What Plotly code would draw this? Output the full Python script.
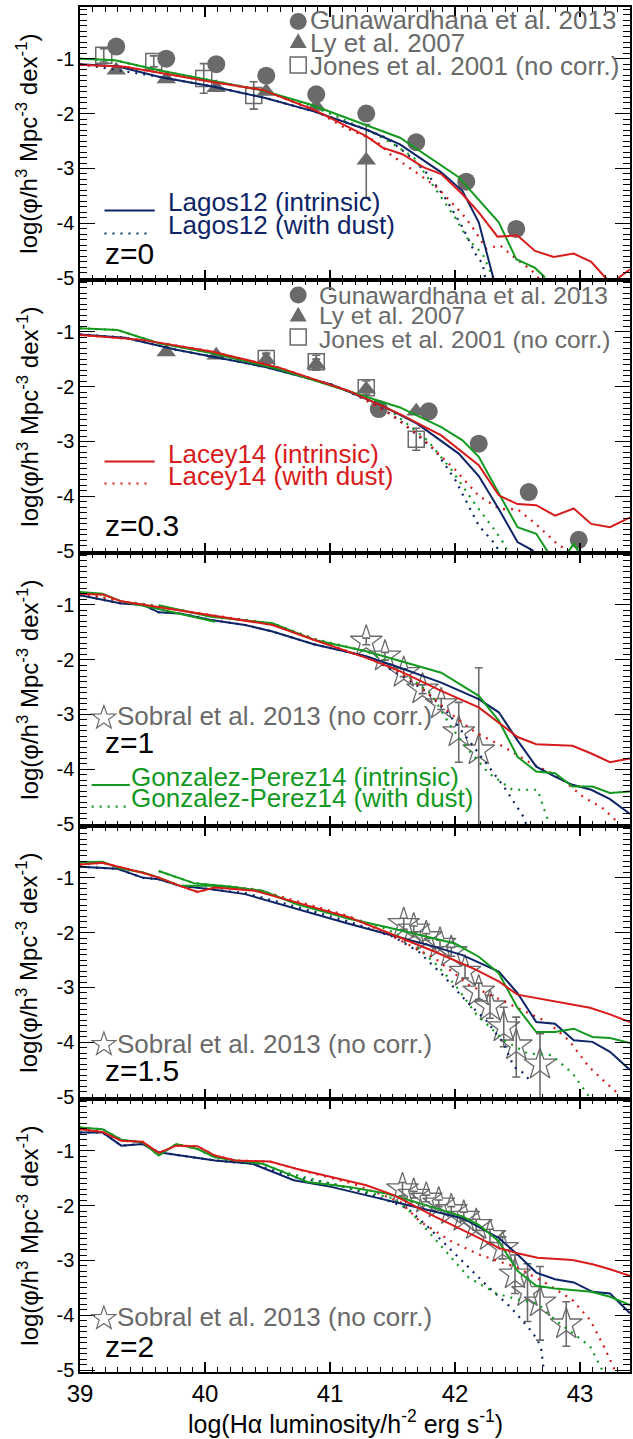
import math
import plotly.graph_objects as go
from plotly.subplots import make_subplots

# ---------------- data ----------------
x_tick_vals = [39, 40, 41, 42, 43]
x_tick_text = ["39", "40", "41", "42", "43"]
y_tick_vals = [-1, -2, -3, -4, -5]
y_tick_text = ["-1", "-2", "-3", "-4", "-5"]
panel_labels = ["z=0", "z=0.3", "z=1", "z=1.5", "z=2"]

# z = 0
z0_lagos_x = [39.0, 39.3, 39.63, 40.07, 40.49, 40.87, 41.29, 41.56, 41.89, 42.06, 42.19, 42.30, 42.33]
z0_lagos_y = [-1.10, -1.14, -1.33, -1.51, -1.72, -1.96, -2.29, -2.56, -3.07, -3.41, -3.98, -4.97, -5.2]
z0_lagos_dust_x = [39.0, 39.63, 40.07, 40.49, 40.87, 41.29, 41.45, 41.62, 41.78, 41.92, 42.06, 42.17, 42.22, 42.26]
z0_lagos_dust_y = [-1.10, -1.33, -1.51, -1.72, -1.96, -2.29, -2.44, -2.74, -3.10, -3.53, -4.07, -4.58, -4.73, -5.2]
z0_lacey_x = [39.0, 39.36, 40.05, 40.46, 40.87, 41.29, 41.42, 41.58, 41.75, 41.89, 42.06, 42.19, 42.34, 42.50,
              42.64, 42.79, 42.95, 43.09, 43.20, 43.25, 43.40]
z0_lacey_y = [-1.11, -1.15, -1.42, -1.57, -1.93, -2.41, -2.62, -2.74, -2.98, -3.10, -3.47, -3.80, -4.24, -4.22,
              -4.50, -4.61, -4.55, -4.70, -4.98, -5.08, -4.84]
z0_lacey_dust_x = [39.0, 39.36, 40.05, 40.46, 40.87, 41.12, 41.37, 41.48, 41.67, 41.86, 42.06, 42.14, 42.25, 42.36,
                   42.47, 42.61, 42.66, 42.72]
z0_lacey_dust_y = [-1.11, -1.15, -1.42, -1.57, -1.93, -2.26, -2.50, -2.74, -3.04, -3.35, -3.83, -4.07, -4.46, -4.40,
                   -4.61, -4.85, -4.97, -5.2]
z0_gp_x = [39.0, 39.28, 39.63, 40.07, 40.46, 40.85, 41.06, 41.56, 42.03, 42.35, 42.49, 42.64, 42.71, 42.76]
z0_gp_y = [-1.00, -1.03, -1.21, -1.40, -1.58, -1.84, -2.02, -2.44, -3.16, -3.98, -4.65, -4.81, -4.96, -5.2]
z0_gp_dust_x = [39.0, 39.28, 39.63, 40.07, 40.46, 40.85, 41.06, 41.37, 41.51, 41.67, 41.84, 42.00, 42.11, 42.22,
                42.30, 42.34]
z0_gp_dust_y = [-1.00, -1.03, -1.21, -1.40, -1.58, -1.86, -2.06, -2.38, -2.56, -2.80, -3.35, -3.89, -4.31, -4.55,
                -4.97, -5.2]
z0_gun_x = [39.29, 39.69, 40.09, 40.49, 40.89, 41.29, 41.69, 42.09, 42.49]
z0_gun_y = [-0.78, -1.00, -1.10, -1.31, -1.65, -2.00, -2.52, -3.24, -4.10]
z0_ly_x = [39.29, 39.69, 40.09, 40.49, 40.89, 41.29]
z0_ly_y = [-1.21, -1.37, -1.53, -1.60, -1.87, -2.85]
z0_ly_err_p = [0.04, 0.04, 0.04, 0.04, 0.04, 0.65]
z0_ly_err_m = [0.04, 0.04, 0.04, 0.04, 0.04, 0.68]
z0_jones_x = [39.19, 39.59, 39.99, 40.39]
z0_jones_y = [-0.94, -1.05, -1.36, -1.67]
z0_jones_err = [0.12, 0.10, 0.27, 0.25]

# z = 0.3
z03_lagos_x = [39.0, 39.36, 39.77, 40.46, 41.01, 41.42, 41.70, 42.03, 42.19, 42.35, 42.50, 42.62, 42.66]
z03_lagos_y = [-1.05, -1.11, -1.33, -1.63, -1.96, -2.35, -2.68, -3.22, -3.63, -4.23, -4.83, -4.98, -5.2]
z03_lagos_dust_x = [39.0, 39.36, 39.77, 40.46, 41.01, 41.37, 41.56, 41.84, 42.00, 42.19, 42.33, 42.38]
z03_lagos_dust_y = [-1.05, -1.11, -1.33, -1.63, -1.96, -2.32, -2.62, -3.16, -3.69, -4.53, -4.89, -5.2]
z03_lacey_x = [39.0, 39.50, 40.05, 40.60, 41.15, 41.56, 41.89, 42.19, 42.35, 42.50, 42.65, 42.80, 42.95, 43.09,
               43.24, 43.40]
z03_lacey_y = [-1.06, -1.15, -1.36, -1.66, -2.08, -2.50, -2.89, -3.43, -3.98, -4.14, -4.16, -4.35, -4.22, -4.50,
               -4.56, -4.38]
z03_lacey_dust_x = [39.0, 39.50, 40.05, 40.60, 41.15, 41.48, 41.73, 42.00, 42.19, 42.36, 42.50, 42.66, 42.83,
                    42.91, 42.95]
z03_lacey_dust_y = [-1.06, -1.15, -1.36, -1.66, -2.08, -2.50, -2.92, -3.51, -3.99, -4.23, -4.23, -4.53, -4.89,
                    -4.98, -5.2]
z03_gp_x = [39.0, 39.30, 39.63, 40.05, 40.60, 41.15, 41.56, 41.89, 42.06, 42.19, 42.35, 42.50, 42.65, 42.74,
            42.88, 42.95, 43.00, 43.05]
z03_gp_y = [-0.94, -0.97, -1.21, -1.39, -1.69, -2.08, -2.38, -2.74, -2.98, -3.28, -3.93, -4.56, -4.68, -5.0,
            -5.1, -4.86, -5.05, -5.2]
z03_gp_dust_x = [39.0, 39.30, 39.63, 40.05, 40.60, 41.15, 41.42, 41.78, 41.97, 42.17, 42.33, 42.40, 42.45]
z03_gp_dust_y = [-0.94, -0.97, -1.21, -1.39, -1.69, -2.08, -2.32, -2.98, -3.51, -4.17, -4.65, -4.89, -5.2]
z03_gun_x = [41.39, 41.79, 42.19, 42.59, 42.99]
z03_gun_y = [-2.41, -2.45, -3.04, -3.92, -4.79]
z03_ly_x = [39.69, 40.09, 40.49, 40.89, 41.29, 41.69]
z03_ly_y = [-1.37, -1.43, -1.51, -1.60, -2.05, -2.45]
z03_ly_err = [0.03, 0.03, 0.10, 0.10, 0.05, 0.05]
z03_jones_x = [40.49, 40.89, 41.29, 41.69]
z03_jones_y = [-1.49, -1.55, -2.02, -2.96]
z03_jones_err = [0.10, 0.12, 0.12, 0.20]

# z = 1
z1_lagos_x = [39.0, 39.33, 39.50, 39.63, 39.80, 40.05, 40.32, 40.54, 40.87, 41.29, 41.56, 41.89, 42.19, 42.35,
              42.50, 42.65, 42.80, 42.94, 43.09, 43.24, 43.40]
z1_lagos_y = [-0.83, -0.98, -1.00, -1.14, -1.16, -1.28, -1.37, -1.49, -1.72, -1.94, -2.15, -2.42, -2.72, -2.96,
              -3.47, -3.95, -4.13, -4.28, -4.37, -4.54, -4.81]
z1_lagos_dust_x = [39.0, 39.33, 39.50, 39.63, 39.80, 40.05, 40.32, 40.54, 40.87, 41.29, 41.42, 41.62, 41.78,
                   41.95, 42.11, 42.25, 42.39, 42.55, 42.60]
z1_lagos_dust_y = [-0.83, -0.98, -1.00, -1.14, -1.16, -1.28, -1.37, -1.49, -1.72, -1.94, -2.09, -2.36, -2.60,
                   -2.99, -3.47, -3.89, -4.31, -4.87, -5.2]
z1_lacey_x = [39.0, 39.19, 39.33, 39.50, 39.63, 40.05, 40.54, 40.87, 41.29, 41.56, 41.89, 42.19, 42.35, 42.50,
              42.65, 42.94, 43.09, 43.24, 43.40]
z1_lacey_y = [-0.80, -0.82, -0.94, -1.00, -1.04, -1.19, -1.37, -1.64, -1.97, -2.21, -2.57, -2.87, -3.14, -3.41,
              -3.54, -3.57, -3.71, -3.87, -3.80]
z1_lacey_dust_x = [39.0, 39.33, 39.63, 40.05, 40.54, 40.87, 41.29, 41.42, 41.70, 41.97, 42.16, 42.39, 42.61,
                   42.83, 43.02, 43.19, 43.30, 43.35]
z1_lacey_dust_y = [-0.80, -0.94, -1.04, -1.19, -1.35, -1.62, -1.97, -2.05, -2.45, -2.99, -3.32, -3.59, -3.89,
                   -4.13, -4.49, -4.72, -4.96, -5.2]
z1_gp_x = [39.0, 39.18, 39.33, 39.63, 40.08, None,
           39.63, 40.05, 40.54, 40.87, 41.29, 41.56, 41.89, 42.19, 42.35, 42.50, 42.65, 42.80, 42.94, 43.10,
           43.24, 43.40]
z1_gp_y = [-0.77, -0.80, -0.94, -1.08, -1.31, None,
           -1.01, -1.22, -1.34, -1.64, -1.85, -2.03, -2.24, -2.66, -3.11, -3.77, -4.04, -4.07, -4.31, -4.31,
           -4.43, -4.40]
z1_gp_dust_x = [39.0, 39.33, 39.63, 40.05, 40.54, 40.87, 41.29, 41.45, 41.64, 41.81, 41.97, 42.11, 42.27, 42.46,
                42.66, 42.74, 42.77]
z1_gp_dust_y = [-0.77, -0.94, -1.02, -1.22, -1.34, -1.62, -1.85, -2.03, -2.33, -2.63, -3.23, -3.65, -4.07, -4.37,
                -4.37, -4.90, -5.2]
z1_sobral_x = [41.29, 41.44, 41.59, 41.74, 41.89, 42.03, 42.19]
z1_sobral_y = [-1.67, -1.94, -2.24, -2.54, -2.81, -3.32, -3.65]
z1_sobral_err_p = [0.06, 0.07, 0.07, 0.08, 0.10, 0.54, 1.50]
z1_sobral_err_m = [0.06, 0.07, 0.07, 0.08, 0.10, 0.55, 1.50]

# z = 1.5
z15_lagos_x = [39.0, 39.30, 39.50, 39.63, 39.80, 40.05, 40.32, 40.73, 41.15, 41.45, 41.84, 42.06, 42.35, 42.50,
               42.65, 42.80, 42.95, 43.10, 43.24, 43.40]
z15_lagos_y = [-0.80, -0.84, -1.00, -1.03, -1.15, -1.21, -1.30, -1.57, -1.84, -2.02, -2.26, -2.41, -2.71, -3.10,
               -3.63, -3.66, -3.96, -3.99, -4.17, -4.50]
z15_lagos_dust_x = [39.0, 39.30, 39.50, 39.63, 39.80, 40.05, 40.32, 40.73, 41.15, 41.51, 41.71, 41.90, 42.09,
                    42.25, 42.39, 42.47, 42.55, 42.60]
z15_lagos_dust_y = [-0.80, -0.84, -1.00, -1.03, -1.15, -1.21, -1.28, -1.53, -1.80, -2.08, -2.35, -2.77, -3.25,
                    -3.60, -4.02, -4.44, -4.56, -4.70]
z15_lacey_x = [39.0, 39.18, 39.50, 39.63, 39.80, 39.94, 40.08, 40.40, 40.73, 41.15, 41.45, 41.84, 42.17, 42.35,
               42.50, 42.80, 43.08, 43.24, 43.40]
z15_lacey_y = [-0.76, -0.73, -0.91, -1.00, -1.15, -1.26, -1.18, -1.24, -1.45, -1.72, -1.99, -2.35, -2.68, -2.89,
               -3.13, -3.25, -3.37, -3.49, -3.63]
z15_lacey_dust_x = [39.0, 39.18, 39.50, 39.63, 39.80, 39.94, 40.08, 40.20, 40.40, 40.73, 41.15, 41.51, 41.84,
                    42.11, 42.39, 42.61, 42.74, 42.91, 43.07, 43.21, 43.30, 43.34]
z15_lacey_dust_y = [-0.76, -0.73, -0.91, -1.00, -1.15, -1.26, -1.18, -1.17, -1.21, -1.42, -1.70, -2.08, -2.47,
                    -2.95, -3.25, -3.49, -3.63, -3.96, -4.44, -4.74, -4.92, -5.2]
z15_gp_x = [39.0, 39.18, 39.33, 39.50, 39.63, 39.80, 40.05, 40.24, None,
            39.63, 39.91, 40.19, 40.46, 40.73, 41.15, 41.45, 41.84, 42.00, 42.19, 42.35, 42.50, 42.65, 42.80,
            42.95, 43.10, 43.24, 43.40]
z15_gp_y = [-0.72, -0.71, -0.84, -0.90, -1.00, -1.15, -1.15, -1.18, None,
            -0.88, -1.10, -1.16, -1.24, -1.48, -1.75, -1.90, -2.11, -2.20, -2.44, -2.74, -3.37, -3.81, -3.81,
            -3.75, -3.90, -3.92, -4.01]
z15_gp_dust_x = [39.63, 39.91, 40.19, 40.46, 40.73, 41.15, 41.45, 41.65, 41.84, 42.00, 42.17, 42.39, 42.58,
                 42.77, 42.94, 43.07, 43.10]
z15_gp_dust_y = [-0.88, -1.10, -1.16, -1.24, -1.46, -1.72, -1.93, -2.17, -2.56, -2.95, -3.49, -3.96, -4.20,
                 -4.23, -4.56, -4.98, -5.2]
z15_sobral_x = [41.59, 41.67, 41.77, 41.88, 41.97, 42.08, 42.19, 42.28, 42.39, 42.49, 42.68]
z15_sobral_y = [-1.84, -1.94, -2.08, -2.20, -2.35, -2.71, -3.07, -3.34, -3.72, -4.05, -4.40]
z15_sobral_err_p = [0.10, 0.06, 0.06, 0.06, 0.08, 0.12, 0.15, 0.20, 0.36, 0.51, 0.56]
z15_sobral_err_m = [0.10, 0.06, 0.06, 0.06, 0.08, 0.12, 0.15, 0.22, 0.36, 0.58, 0.64]

# z = 2
z2_lagos_x = [39.0, 39.18, 39.33, 39.50, 39.63, 39.80, 40.08, 40.38, 40.54, 40.71, 41.01, 41.29, 41.56, 41.84,
              42.06, 42.35, 42.50, 42.65, 42.80, 42.95, 43.10, 43.24, 43.40]
z2_lagos_y = [-0.67, -0.67, -0.91, -0.88, -1.03, -1.09, -1.18, -1.24, -1.39, -1.54, -1.66, -1.81, -1.96, -2.11,
              -2.23, -2.59, -2.89, -3.22, -3.34, -3.40, -3.57, -3.60, -3.96]
z2_lagos_dust_x = [39.0, 39.18, 39.33, 39.50, 39.63, 39.80, 40.08, 40.38, 40.54, 40.71, 41.01, 41.29, 41.45,
                   41.62, 41.78, 41.95, 42.11, 42.27, 42.44, 42.58, 42.66, 42.69, 42.72]
z2_lagos_dust_y = [-0.67, -0.67, -0.91, -0.88, -1.03, -1.09, -1.18, -1.24, -1.36, -1.48, -1.60, -1.77, -1.90,
                   -2.05, -2.38, -2.77, -3.13, -3.49, -3.84, -4.20, -4.44, -4.62, -5.2]
z2_lacey_x = [39.0, 39.18, 39.33, 39.50, 39.63, 39.77, 39.94, 40.08, 40.24, 40.52, 40.73, 41.01, 41.29, 41.51,
              41.84, 42.19, 42.35, 42.50, 42.66, 42.94, 43.10, 43.24, 43.40]
z2_lacey_y = [-0.61, -0.66, -0.82, -0.84, -1.04, -0.91, -0.92, -1.09, -1.18, -1.20, -1.33, -1.48, -1.63, -1.81,
              -2.20, -2.59, -2.77, -2.87, -2.95, -2.99, -3.07, -3.16, -3.28]
z2_lacey_dust_x = [39.0, 39.18, 39.33, 39.50, 39.63, 39.77, 39.94, 40.08, 40.24, 40.52, 40.76, 41.18, 41.56,
                   41.72, 41.97, 42.19, 42.50, 42.74, 42.94, 43.08, 43.19, 43.27, 43.30]
z2_lacey_dust_y = [-0.61, -0.66, -0.82, -0.84, -1.04, -0.91, -0.92, -1.09, -1.18, -1.20, -1.35, -1.60, -1.93,
                   -2.29, -2.65, -2.89, -3.13, -3.43, -3.72, -4.08, -4.56, -4.95, -5.2]
z2_gp_x = [39.0, 39.18, 39.33, 39.50, 39.63, 39.77, 39.94, 40.08, 40.24, 40.46, 40.63, 40.82, 41.15, 41.45,
           41.72, 42.06, 42.19, 42.35, 42.50, 42.65, 42.80, 43.09, 43.24, 43.40]
z2_gp_y = [-0.58, -0.61, -0.80, -0.85, -1.09, -0.88, -0.97, -1.12, -1.18, -1.24, -1.39, -1.57, -1.66, -1.78,
           -1.96, -2.20, -2.35, -2.65, -3.19, -3.46, -3.51, -3.57, -3.66, -3.81]
z2_gp_dust_x = [39.0, 39.18, 39.33, 39.50, 39.63, 39.77, 39.94, 40.08, 40.24, 40.46, 40.63, 40.79, 41.51, 41.64,
                41.81, 41.97, 42.11, 42.33, 42.52, 42.66, 42.80, 42.94, 43.08, 43.19]
z2_gp_dust_y = [-0.58, -0.61, -0.80, -0.85, -1.09, -0.88, -0.97, -1.12, -1.18, -1.24, -1.39, -1.48, -1.87, -2.11,
                -2.53, -2.95, -3.31, -3.60, -3.72, -3.78, -4.08, -4.32, -4.56, -5.05]
z2_sobral_x = [41.58, 41.67, 41.77, 41.87, 41.97, 42.07, 42.17, 42.28, 42.38, 42.48, 42.58, 42.68, 42.89]
z2_sobral_y = [-1.70, -1.80, -1.87, -1.96, -2.08, -2.20, -2.35, -2.55, -2.77, -3.25, -3.57, -3.76, -4.16]
z2_sobral_err_p = [0.12, 0.06, 0.06, 0.06, 0.06, 0.08, 0.10, 0.12, 0.20, 0.35, 0.51, 0.65, 0.41]
z2_sobral_err_m = [0.12, 0.06, 0.06, 0.06, 0.06, 0.08, 0.10, 0.12, 0.20, 0.35, 0.54, 0.69, 0.40]

# ---------------- style ----------------
W, H = 633, 1439
ML, MR, MT, MB = 80, 1, 7, 67
PW, PH = W - ML - MR, H - MT - MB
NAVY = "#0d2466"
RED = "#d81b1b"
GREEN = "#13991f"
GRAY = "#6a6a6a"
FONT = "Liberation Sans, Arial, sans-serif"
XR = [39.0, 43.4]
YR = [-5.03, -0.06]


def pxx(x):
    return (x - ML) / PW


def pxy(y):
    return (H - MB - y) / PH


fig = make_subplots(rows=5, cols=1, vertical_spacing=0)


def add_line(row, x, y, color, dotted=False):
    fig.add_trace(go.Scatter(
        x=x, y=y, mode="lines", showlegend=False, hoverinfo="skip",
        line=dict(color=color, width=2.2 if dotted else 2,
                  dash="2px,6px" if dotted else "solid")),
        row=row, col=1)


def add_points(row, x, y, symbol, size, ep=None, em=None, lw=0):
    err = None
    if ep is not None:
        err = dict(type="data", symmetric=False, array=ep, arrayminus=em,
                   color=GRAY, thickness=1.6, width=4)
    fig.add_trace(go.Scatter(
        x=x, y=y, mode="markers", showlegend=False, hoverinfo="skip",
        marker=dict(symbol=symbol, size=size, color=GRAY,
                    line=dict(color=GRAY, width=lw)),
        error_y=err), row=row, col=1)


# observations
add_points(1, z0_jones_x, z0_jones_y, "square-open", 16, z0_jones_err, z0_jones_err, 1.5)
add_points(1, z0_ly_x, z0_ly_y, "triangle-up", 17, z0_ly_err_p, z0_ly_err_m)
add_points(1, z0_gun_x, z0_gun_y, "circle", 18)
add_points(2, z03_jones_x, z03_jones_y, "square-open", 16, z03_jones_err, z03_jones_err, 1.5)
add_points(2, z03_ly_x, z03_ly_y, "triangle-up", 17, z03_ly_err, z03_ly_err)
add_points(2, z03_gun_x, z03_gun_y, "circle", 18)
add_points(3, z1_sobral_x, z1_sobral_y, "star-open", 24, z1_sobral_err_p, z1_sobral_err_m, 1.3)
add_points(4, z15_sobral_x, z15_sobral_y, "star-open", 24, z15_sobral_err_p, z15_sobral_err_m, 1.3)
add_points(5, z2_sobral_x, z2_sobral_y, "star-open", 24, z2_sobral_err_p, z2_sobral_err_m, 1.3)

# models
models = [
    (1, z0_lagos_x, z0_lagos_y, z0_lagos_dust_x, z0_lagos_dust_y,
     z0_lacey_x, z0_lacey_y, z0_lacey_dust_x, z0_lacey_dust_y,
     z0_gp_x, z0_gp_y, z0_gp_dust_x, z0_gp_dust_y),
    (2, z03_lagos_x, z03_lagos_y, z03_lagos_dust_x, z03_lagos_dust_y,
     z03_lacey_x, z03_lacey_y, z03_lacey_dust_x, z03_lacey_dust_y,
     z03_gp_x, z03_gp_y, z03_gp_dust_x, z03_gp_dust_y),
    (3, z1_lagos_x, z1_lagos_y, z1_lagos_dust_x, z1_lagos_dust_y,
     z1_lacey_x, z1_lacey_y, z1_lacey_dust_x, z1_lacey_dust_y,
     z1_gp_x, z1_gp_y, z1_gp_dust_x, z1_gp_dust_y),
    (4, z15_lagos_x, z15_lagos_y, z15_lagos_dust_x, z15_lagos_dust_y,
     z15_lacey_x, z15_lacey_y, z15_lacey_dust_x, z15_lacey_dust_y,
     z15_gp_x, z15_gp_y, z15_gp_dust_x, z15_gp_dust_y),
    (5, z2_lagos_x, z2_lagos_y, z2_lagos_dust_x, z2_lagos_dust_y,
     z2_lacey_x, z2_lacey_y, z2_lacey_dust_x, z2_lacey_dust_y,
     z2_gp_x, z2_gp_y, z2_gp_dust_x, z2_gp_dust_y),
]
for (r, lx, ly, ldx, ldy, cx, cy, cdx, cdy, gx, gy, gdx, gdy) in models:
    add_line(r, ldx, ldy, NAVY, True)
    add_line(r, gdx, gdy, GREEN, True)
    add_line(r, cdx, cdy, RED, True)
    add_line(r, lx, ly, NAVY)
    add_line(r, gx, gy, GREEN)
    add_line(r, cx, cy, RED)

# axes
for i in range(1, 6):
    fig.update_xaxes(
        row=i, col=1, range=XR, showline=True, linecolor="black", linewidth=1.6,
        mirror="ticks", ticks="inside", ticklen=10, tickwidth=1.3, tickcolor="black",
        tickmode="array", tickvals=x_tick_vals, ticktext=x_tick_text,
        showticklabels=(i == 5), tickfont=dict(family=FONT, size=24, color="black"),
        minor=dict(ticks="inside", ticklen=5, tickwidth=1, tickcolor="black",
                   tickmode="linear", tick0=0, dtick=0.1),
        showgrid=False, zeroline=False)
    fig.update_yaxes(
        row=i, col=1, range=YR, showline=True, linecolor="black", linewidth=1.6,
        mirror="ticks", ticks="inside", ticklen=15, tickwidth=1.3, tickcolor="black",
        tickmode="array", tickvals=y_tick_vals, ticktext=y_tick_text,
        tickfont=dict(family=FONT, size=20, color="black"),
        minor=dict(ticks="inside", ticklen=7, tickwidth=1, tickcolor="black",
                   tickmode="linear", tick0=0, dtick=0.1),
        showgrid=False, zeroline=False)

annotations = []
shapes = []


def text(t, x, y, color, size, anchor="left", angle=0):
    annotations.append(dict(
        text=t, x=pxx(x), y=pxy(y), xref="paper", yref="paper",
        xanchor=anchor, yanchor="middle", showarrow=False, borderpad=0,
        textangle=angle, font=dict(family=FONT, size=size, color=color)))


def key_line(x0, x1, y, color, dotted=False):
    shapes.append(dict(
        type="line", xref="paper", yref="paper", x0=pxx(x0), x1=pxx(x1), y0=pxy(y), y1=pxy(y),
        line=dict(color=color, width=2.2 if dotted else 2, dash="2px,6px" if dotted else "solid")))


def key_symbol(kind, cx, cy):
    base = dict(xref="paper", yref="paper", xsizemode="pixel", ysizemode="pixel",
                xanchor=pxx(cx), yanchor=pxy(cy))
    if kind == "circle":
        base.update(type="circle", x0=-8.5, x1=8.5, y0=-8.5, y1=8.5, fillcolor=GRAY,
                    line=dict(width=0))
    elif kind == "square":
        base.update(type="rect", x0=-8, x1=8, y0=-8, y1=8, line=dict(color=GRAY, width=1.5))
    elif kind == "triangle":
        base.update(type="path", path="M -8.5,-5 L 8.5,-5 L 0,9.7 Z", fillcolor=GRAY,
                    line=dict(width=0))
    elif kind == "star":
        pts = []
        for k in range(10):
            r = 12.5 if k % 2 == 0 else 5.0
            a = math.pi / 2 + k * math.pi / 5
            pts.append("%.2f,%.2f" % (r * math.cos(a), r * math.sin(a)))
        base.update(type="path", path="M " + " L ".join(pts) + " Z",
                    line=dict(color=GRAY, width=1.2))
    shapes.append(base)


LEG = 26
LEG2 = 24.5
# panel 1
key_symbol("circle", 299, 21.5)
key_symbol("triangle", 299, 43)
key_symbol("square", 299, 65)
text("Gunawardhana et al. 2013", 310, 20, GRAY, LEG)
text("Ly et al. 2007", 310, 42.5, GRAY, LEG)
text("Jones et al. 2001 (no corr.)", 310, 66, GRAY, LEG)
key_line(104.6, 155, 210.5, NAVY)
key_line(104.6, 151, 233.5, NAVY, True)
text("Lagos12 (intrinsic)", 167, 202, NAVY, LEG)
text("Lagos12 (with dust)", 167, 225, NAVY, LEG)
text(panel_labels[0], 104, 253, "black", 30)
# panel 2
key_symbol("circle", 299, 295)
key_symbol("triangle", 299, 316.5)
key_symbol("square", 299, 337)
text("Gunawardhana et al. 2013", 319, 295, GRAY, LEG2)
text("Ly et al. 2007", 319, 316, GRAY, LEG2)
text("Jones et al. 2001 (no corr.)", 319, 339, GRAY, LEG2)
key_line(104.6, 155, 461.5, RED)
key_line(104.6, 151, 483.5, RED, True)
text("Lacey14 (intrinsic)", 167, 454, RED, LEG)
text("Lacey14 (with dust)", 167, 476, RED, LEG)
text(panel_labels[1], 104, 525, "black", 30)
# panel 3
key_symbol("star", 104, 718)
text("Sobral et al. 2013 (no corr.)", 116, 716, GRAY, LEG)
text(panel_labels[2], 104, 742, "black", 30)
key_line(91.7, 130, 785, GREEN)
key_line(91.7, 128, 806.7, GREEN, True)
text("Gonzalez-Perez14 (intrinsic)", 130, 777, GREEN, LEG)
text("Gonzalez-Perez14 (with dust)", 130, 798.5, GREEN, LEG)
# panel 4
key_symbol("star", 104, 1044.5)
text("Sobral et al. 2013 (no corr.)", 116, 1043.5, GRAY, LEG)
text(panel_labels[3], 104, 1070, "black", 30)
# panel 5
key_symbol("star", 104, 1318.5)
text("Sobral et al. 2013 (no corr.)", 116, 1317, GRAY, LEG)
text(panel_labels[4], 104, 1346, "black", 30)

# axis titles
ytitle = "log(φ/h<sup>3</sup> Mpc<sup>-3</sup> dex<sup>-1</sup>)"
for k in range(5):
    text(ytitle, 27, MT + PH / 10 + k * PH / 5, "black", 24, anchor="center", angle=-90)
text("log(Hα luminosity/h<sup>-2</sup> erg s<sup>-1</sup>)", 346, 1422, "black", 25, anchor="center")

fig.update_layout(
    width=W, height=H, autosize=False,
    margin=dict(l=ML, r=MR, t=MT, b=MB),
    paper_bgcolor="white", plot_bgcolor="white",
    showlegend=False,
    annotations=annotations, shapes=shapes,
    font=dict(family=FONT),
)

fig.write_html("out.html", config={"displayModeBar": False, "staticPlot": True},
               post_script="document.body.style.margin='0';document.body.style.overflow='hidden';")
